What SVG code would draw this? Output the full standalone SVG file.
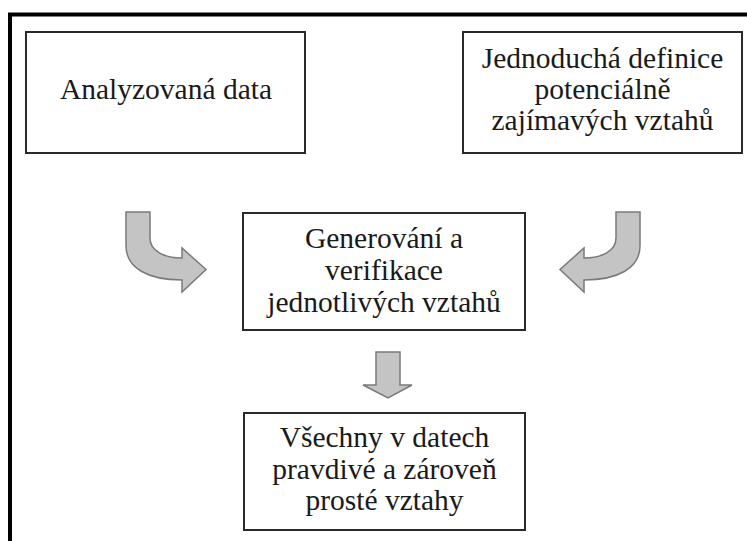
<svg xmlns="http://www.w3.org/2000/svg" width="747" height="541" viewBox="0 0 747 541">
  <style>
    .box { fill: #ffffff; stroke: #2a2a2a; stroke-width: 2; }
    .label { font-family: 'Liberation Serif', 'Times New Roman', Times, serif; font-size: 29.5px; fill: #1a1a1a; text-anchor: middle; }
    .arrow { fill: #c4c4c4; stroke: #7a7a7a; stroke-width: 1.5; stroke-linejoin: miter; }
  </style>
  <rect width="747" height="541" fill="#ffffff"/>

  <!-- outer frame, continuing past the right and bottom edges -->
  <rect x="10" y="14.5" width="760" height="560" fill="none" stroke="#000000" stroke-width="4"/>

  <g id="node-data">
    <rect class="box" x="26" y="32" width="279" height="121"/>
    <text class="label" x="166" y="99">Analyzovaná data</text>
  </g>

  <g id="node-definition">
    <rect class="box" x="463" y="32" width="279" height="121"/>
    <text class="label" x="602.5" y="68">Jednoduchá definice</text>
    <text class="label" x="602.5" y="99">potenciálně</text>
    <text class="label" x="602.5" y="130">zajímavých vztahů</text>
  </g>

  <g id="node-generation">
    <rect class="box" x="243" y="213" width="282" height="117"/>
    <text class="label" x="384" y="248">Generování a</text>
    <text class="label" x="384" y="280">verifikace</text>
    <text class="label" x="384" y="312">jednotlivých vztahů</text>
  </g>

  <g id="node-result">
    <rect class="box" x="244" y="413" width="281" height="117"/>
    <text class="label" x="384.5" y="447">Všechny v datech</text>
    <text class="label" x="384.5" y="479">pravdivé a zároveň</text>
    <text class="label" x="384.5" y="510">prosté vztahy</text>
  </g>

  <g id="connectors">
    <!-- bent arrow from the data box into the generation box -->
    <path class="arrow" d="M126,212 L150,212 L150,238 C150,251 164,258 182,258 L182,248 L206,269.5 L182,292 L182,280 C148,280 126,268 126,246 Z"/>
    <!-- bent arrow from the definition box, mirrored -->
    <path class="arrow" d="M640,212 L616,212 L616,238 C616,251 602,258 584,258 L584,248 L560,269.5 L584,292 L584,280 C618,280 640,268 640,246 Z"/>
    <!-- straight arrow down to the result box -->
    <path class="arrow" d="M376,352 L400,352 L400,385 L412,385 L388,398 L363,385 L376,385 Z"/>
  </g>
</svg>
